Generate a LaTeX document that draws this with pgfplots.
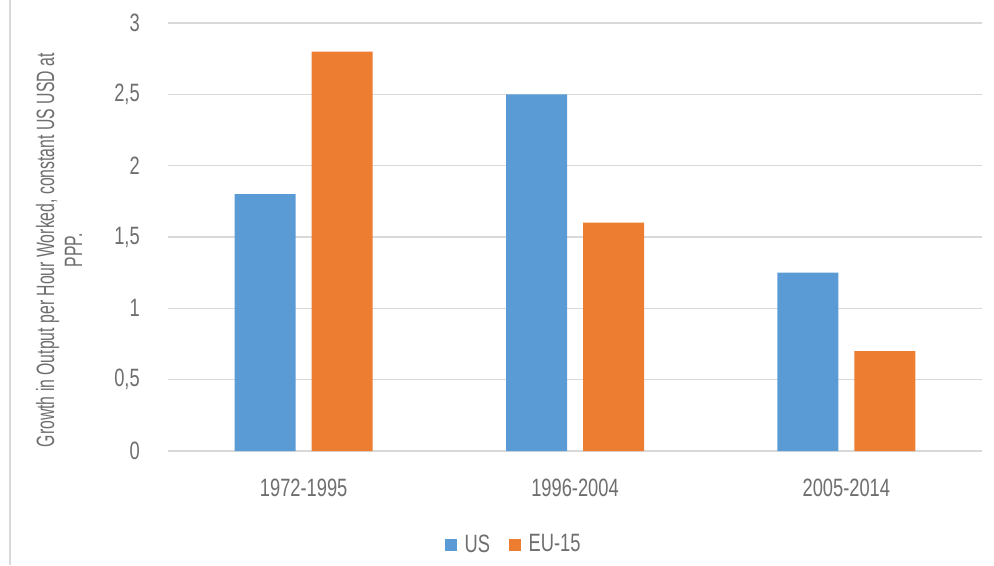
\documentclass[border=0pt]{standalone}
\usepackage{fontspec}
\setmainfont{Liberation Sans}[FakeStretch=0.73]
\newfontfamily\narrowfont{Liberation Sans}[FakeStretch=0.63]
\usepackage{pgfplots}
\pgfplotsset{compat=1.18}
\definecolor{usblue}{HTML}{5B9BD5}
\definecolor{euorange}{HTML}{ED7D31}
\definecolor{txtgray}{HTML}{6E6E6E}
\definecolor{gridgray}{HTML}{D9D9D9}
\begin{document}
\begin{tikzpicture}
\fontsize{18.8}{22.5}\selectfont
\begin{axis}[
  at={(126pt,85.5pt)}, anchor=south west,
  scale only axis, width=610.5pt, height=321pt,
  ybar, bar width=45.75pt, ybar=12pt,
  xmin=-0.5, xmax=2.5, ymin=0, ymax=3,
  xtick={0,1,2}, xticklabels={1972-1995,1996-2004,2005-2014},
  ytick={0,0.5,1,1.5,2,2.5,3},
  /pgf/number format/use comma,
  /pgf/number format/assume math mode=true,
  major tick length=0pt,
  ymajorgrids, grid style={gridgray, line width=0.9pt},
  axis x line*=bottom, axis y line*=left,
  x axis line style={gridgray, line width=0.9pt, -},
  y axis line style={draw=none},
  tick label style={font=\fontsize{18.8}{22.5}\selectfont, text=txtgray},
  yticklabel style={inner sep=0pt, anchor=east, xshift=-21pt},
  xticklabel style={inner sep=0pt, anchor=north, yshift=-21pt},
  legend style={at={(0.425,-0.22)}, anchor=center, draw=none, fill=none,
    legend columns=2, font=\fontsize{18.8}{22.5}\selectfont, text=txtgray,
    /tikz/every even column/.append style={column sep=12pt}},
  legend image code/.code={\fill[#1] (0pt,-4.5pt) rectangle (9pt,4.5pt);},
  clip=false,
]
\addplot[fill=usblue, draw=none] coordinates {(0,1.8) (1,2.5) (2,1.25)};
\addplot[fill=euorange, draw=none] coordinates {(0,2.8) (1,1.6) (2,0.7)};
\legend{\hspace{4pt}US,\hspace{4pt}EU-15}
\end{axis}
\node[rotate=90, align=center, text=txtgray, font=\narrowfont\fontsize{18.8}{21}\selectfont] at (44.25pt,236pt)
  {Growth in Output per Hour Worked, constant US USD at\\PPP.};
\draw[gridgray, line width=1.5pt] (7.5pt,0pt) -- (7.5pt,423.75pt);
\pgfresetboundingbox
\path[use as bounding box] (0pt,0pt) rectangle (745.5pt,423.75pt);
\end{tikzpicture}
\end{document}
